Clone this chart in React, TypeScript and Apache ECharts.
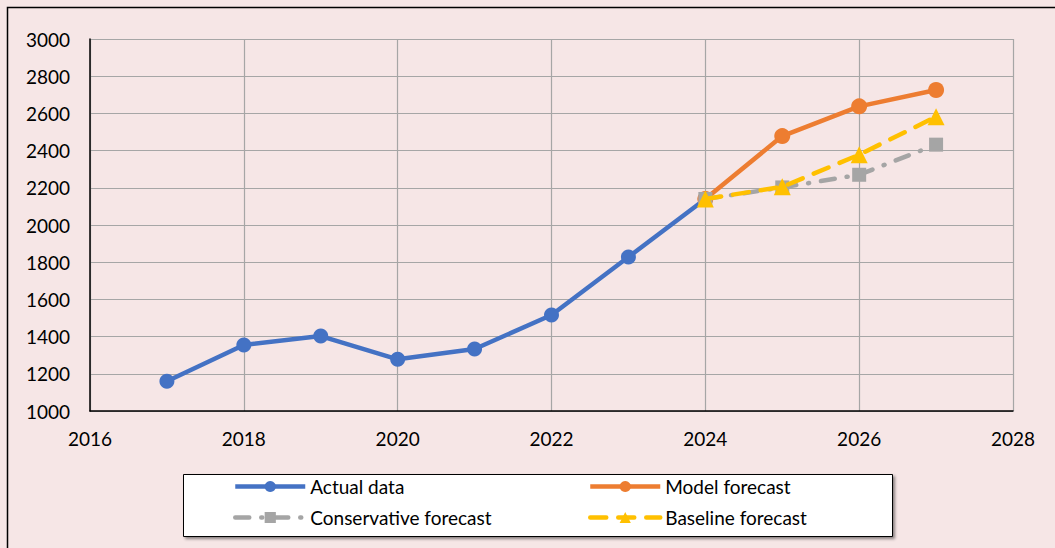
import React, { useEffect, useRef } from "react";
import * as echarts from "echarts";

const actualYears = [2017, 2018, 2019, 2020, 2021, 2022, 2023, 2024];
const actualValues = [1160, 1355, 1403, 1278, 1333, 1516, 1828, 2140];
const forecastYears = [2024, 2025, 2026, 2027];
const modelValues = [2140, 2478, 2638, 2726];
const conservativeValues = [2140, 2202, 2270, 2432];
const baselineValues = [2140, 2205, 2378, 2582];

const pairs = (xs: number[], ys: number[]) => xs.map((x, i) => [x, ys[i]]);

const FONT = "Lato, 'Noto Sans', sans-serif";

const legendCommon = {
  orient: "vertical",
  top: 477,
  padding: 0,
  itemWidth: 70,
  itemHeight: 14,
  itemGap: 12,
  z: 10,
  lineStyle: { width: 4.5 },
  textStyle: { color: "#000", fontSize: 19, fontFamily: FONT },
};

export default function App() {
  const ref = useRef<HTMLDivElement>(null);
  useEffect(() => {
    if (!ref.current) return;
    const chart = echarts.init(ref.current, undefined, { renderer: "svg" });
    chart.setOption({
      animation: false,
      backgroundColor: "#F6E6E6",
      textStyle: { fontFamily: FONT },
      grid: { left: 90, right: 42, top: 39, bottom: 137, containLabel: false },
      xAxis: {
        type: "value",
        min: 2016,
        max: 2028,
        interval: 2,
        axisLine: { show: true, lineStyle: { color: "#000", width: 1.5 } },
        axisTick: { show: false },
        axisLabel: {
          color: "#000",
          fontSize: 19,
          fontFamily: FONT,
          margin: 18,
          formatter: (v: number) => String(v),
        },
        splitLine: { show: true, lineStyle: { color: "#A6A6A6", width: 1.2 } },
      },
      yAxis: {
        type: "value",
        min: 1000,
        max: 3000,
        interval: 200,
        axisLine: { show: true, lineStyle: { color: "#000", width: 1.5 } },
        axisTick: { show: false },
        axisLabel: {
          color: "#000",
          fontSize: 19,
          fontFamily: FONT,
          margin: 20,
          formatter: (v: number) => String(v),
        },
        splitLine: { show: true, lineStyle: { color: "#A6A6A6", width: 1.2 } },
      },
      legend: [
        { ...legendCommon, data: ["Actual data", "Conservative forecast"], left: 233 },
        { ...legendCommon, data: ["Model forecast", "Baseline forecast"], left: 588 },
      ],
      graphic: [
        {
          type: "rect",
          z: -1,
          silent: true,
          shape: { x: 7.5, y: 7.5, width: 1100, height: 600 },
          style: { fill: "none", stroke: "#000", lineWidth: 1.5 },
        },
        {
          type: "rect",
          z: 1,
          silent: true,
          shape: { x: 183.5, y: 474.5, width: 709, height: 62 },
          style: {
            fill: "#fff",
            stroke: "#000",
            lineWidth: 1,
            shadowBlur: 3,
            shadowOffsetX: 2,
            shadowOffsetY: 2,
            shadowColor: "rgba(0,0,0,0.45)",
          },
        },
      ],
      series: [
        {
          name: "Actual data",
          type: "line",
          data: pairs(actualYears, actualValues),
          symbol: "circle",
          symbolSize: 15,
          lineStyle: { color: "#4472C4", width: 4.5 },
          itemStyle: { color: "#4472C4" },
          z: 2,
        },
        {
          name: "Model forecast",
          type: "line",
          data: pairs(forecastYears, modelValues),
          symbol: "circle",
          symbolSize: 16,
          lineStyle: { color: "#ED7D31", width: 4.5 },
          itemStyle: { color: "#ED7D31" },
          z: 3,
        },
        {
          name: "Conservative forecast",
          type: "line",
          data: pairs(forecastYears, conservativeValues),
          symbol: "rect",
          symbolSize: 14,
          lineStyle: { color: "#A5A5A5", width: 4.5, type: [14, 12, 1, 12], cap: "round" },
          itemStyle: { color: "#A5A5A5" },
          z: 4,
        },
        {
          name: "Baseline forecast",
          type: "line",
          data: pairs(forecastYears, baselineValues),
          symbol: "triangle",
          symbolSize: 17,
          lineStyle: { color: "#FFC000", width: 4.5, type: [16, 12], cap: "round" },
          itemStyle: { color: "#FFC000" },
          z: 5,
        },
      ],
    });
    return () => chart.dispose();
  }, []);
  return (
    <div
      ref={ref}
      style={{ position: "absolute", left: 0, top: 0, width: 1055, height: 548 }}
    />
  );
}
